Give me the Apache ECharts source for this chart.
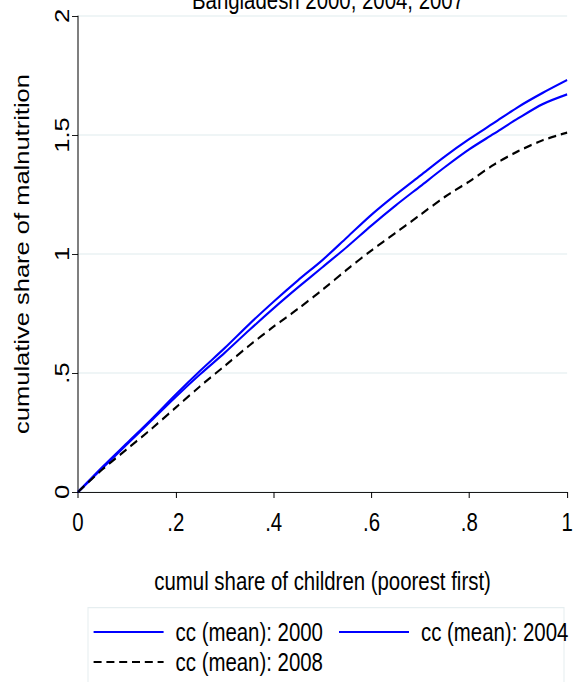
<!DOCTYPE html>
<html>
<head>
<meta charset="utf-8">
<script src="https://cdn.jsdelivr.net/npm/echarts@6/dist/echarts.min.js"></script>
<style>
html,body{margin:0;padding:0;background:#fff;overflow:hidden;width:575px;height:682px}
#c{width:719px;height:682px;transform:scaleX(0.8);transform-origin:0 0}
</style>
</head>
<body>
<div id="c"></div>
<script>
const xShare = [0, .05, .1, .15, .2, .25, .3, .35, .4, .45, .5, .55, .6, .65, .7, .75, .8, .85, .9, .95, 1];
const cc2000 = [0, 0.105, 0.205, 0.305, 0.41, 0.51, 0.605, 0.705, 0.80, 0.89, 0.975, 1.07, 1.165, 1.25, 1.33, 1.41, 1.483, 1.55, 1.618, 1.677, 1.731];
const cc2004 = [0, 0.10, 0.20, 0.30, 0.40, 0.495, 0.585, 0.68, 0.772, 0.86, 0.945, 1.03, 1.12, 1.205, 1.285, 1.365, 1.44, 1.505, 1.57, 1.63, 1.671];
const cc2008 = [0, 0.095, 0.18, 0.265, 0.355, 0.445, 0.53, 0.615, 0.695, 0.77, 0.85, 0.935, 1.015, 1.09, 1.165, 1.24, 1.305, 1.375, 1.432, 1.478, 1.51];
const xTicks = ['0', '.2', '.4', '.6', '.8', '1'];
const yTicks = ['0', '.5', '1', '1.5', '2'];
const seriesNames = ['cc (mean): 2000', 'cc (mean): 2004', 'cc (mean): 2008'];

const F = '"Liberation Sans", Arial, sans-serif';
const FS = 25.5;
const pairs = arr => xShare.map((x, i) => [x, arr[i]]);
const fmt = (list, step) => v => { const i = Math.round(v / step); return list[i] !== undefined ? list[i] : ''; };
const legendBase = {
  left: 116, padding: 0, orient: 'horizontal', icon: 'inherit',
  itemWidth: 87.5, itemHeight: 14, itemGap: 19,
  itemStyle: {opacity: 0},
  textStyle: {fontFamily: F, fontSize: FS, color: '#000', padding: [0, 0, 0, 10]}
};

const chart = echarts.init(document.getElementById('c'), null, {renderer: 'svg'});
chart.setOption({
  animation: false,
  backgroundColor: '#fff',
  title: {
    text: 'Bangladesh 2000, 2004, 2007',
    left: 405, top: -18, textAlign: 'center',
    textStyle: {fontFamily: F, fontSize: FS, fontWeight: 'normal', color: '#000'}
  },
  grid: {left: 97.5, right: 5, top: 16, bottom: 190, containLabel: false},
  xAxis: {
    type: 'value', min: 0, max: 1, interval: 0.2,
    name: 'cumul share of children (poorest first)',
    nameLocation: 'middle', nameGap: 76,
    nameTextStyle: {fontFamily: F, fontSize: FS, color: '#000'},
    axisLine: {show: true, onZero: false, lineStyle: {color: '#000', width: 1}},
    axisTick: {show: true, length: 6, lineStyle: {color: '#000', width: 1.25}},
    axisLabel: {fontFamily: F, fontSize: FS, color: '#000', margin: 17, formatter: fmt(xTicks, 0.2), showMaxLabel: true},
    splitLine: {show: false}
  },
  yAxis: {
    type: 'value', min: 0, max: 2, interval: 0.5,
    name: 'cumulative share of malnutrition',
    nameLocation: 'middle', nameGap: 57,
    nameTextStyle: {fontFamily: F, fontSize: FS, color: '#000'},
    axisLine: {show: true, onZero: false, lineStyle: {color: '#000', width: 1.25}},
    axisTick: {show: true, length: 7.5, lineStyle: {color: '#000'}},
    axisLabel: {fontFamily: F, fontSize: FS, color: '#000', margin: 7, rotate: 90, formatter: fmt(yTicks, 0.5)},
    splitLine: {show: true, lineStyle: {color: '#eaf2f3', width: 1.5}}
  },
  legend: [
    Object.assign({}, legendBase, {top: 619, data: [seriesNames[0], seriesNames[1]]}),
    Object.assign({}, legendBase, {top: 649, data: [seriesNames[2]]})
  ],
  graphic: [{
    type: 'rect', left: 107.5, top: 605, silent: true,
    shape: {width: 595, height: 100},
    style: {fill: 'none', stroke: '#e6eef0', lineWidth: 1.25}
  }],
  series: [
    {name: seriesNames[0], type: 'line', data: pairs(cc2000), showSymbol: false, symbol: 'none', smooth: 0.3,
     lineStyle: {color: '#0000ff', width: 2.3}, itemStyle: {color: '#0000ff'}},
    {name: seriesNames[1], type: 'line', data: pairs(cc2004), showSymbol: false, symbol: 'none', smooth: 0.3,
     lineStyle: {color: '#0000ff', width: 2.3}, itemStyle: {color: '#0000ff'}},
    {name: seriesNames[2], type: 'line', data: pairs(cc2008), showSymbol: false, symbol: 'none', smooth: 0.3,
     lineStyle: {color: '#000', width: 2.3, type: [10, 6]}, itemStyle: {color: '#000'}}
  ]
});
</script>
</body>
</html>
